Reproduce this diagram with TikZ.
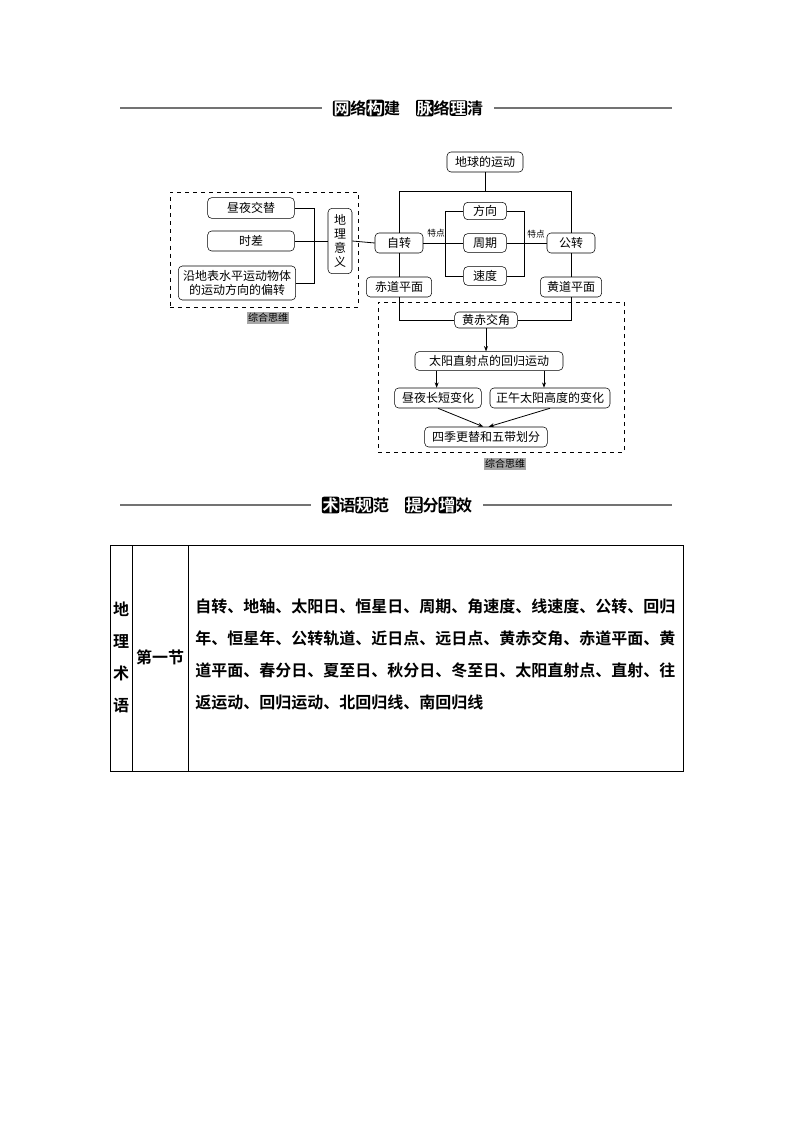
\documentclass[tikz,border=0pt]{standalone}
\usepackage{fontspec}
\setmainfont{Noto Sans CJK SC}
\newfontfamily\cjkb{Noto Sans CJK SC Bold}
\usetikzlibrary{arrows.meta}
\newcommand{\hb}[1]{\tikz[baseline=(h.base)]\node[fill=black,text=white,rounded corners=1.5pt,inner sep=0.6pt](h){#1};}
\tikzset{
 bx/.style={draw,rounded corners=3pt,font=\fontsize{9}{11}\selectfont,inner xsep=0pt,inner ysep=0pt,align=center},
 ln/.style={line width=0.6pt},
 ar/.style={ln,-{Stealth[length=4pt,width=3pt]}},
 dbox/.style={draw,dashed,line width=0.5pt},
 tag/.style={fill=black!35,font=\fontsize{7.5}{9}\selectfont,inner sep=1pt},
 small/.style={font=\fontsize{6.5}{8}\selectfont,inner sep=0pt},
 hd/.style={font=\cjkb\fontsize{12}{14}\selectfont,inner sep=0pt},
 rule/.style={line width=0.8pt,black!55}
}
\begin{document}
\begin{tikzpicture}[x=0.75pt,y=-0.75pt]
\useasboundingbox (0,0) rectangle (794,1123);
% header 1
\node[hd] (h1) at (408,108) {\hb{网}络\hb{构}建\quad\hb{脉}络\hb{理}清};
\coordinate (h1l) at (120,108); \coordinate (h1r) at (672,108);
\draw[rule] (h1l) -- ([xshift=-8pt]h1.west);
\draw[rule] ([xshift=8pt]h1.east) -- (h1r);
% top diagram
\node[bx,minimum width=57pt,minimum height=15pt] (earth) at (485,162) {地球的运动};
\node[bx,minimum width=36pt,minimum height=15pt] (zz) at (399,243) {自转};
\node[bx,minimum width=36pt,minimum height=15pt] (gz) at (571,243) {公转};
\node[bx,minimum width=32pt,minimum height=13pt] (fx) at (485,211) {方向};
\node[bx,minimum width=32pt,minimum height=14pt] (zq) at (485,243) {周期};
\node[bx,minimum width=32pt,minimum height=14pt] (sd) at (485,276) {速度};
\node[bx,minimum width=49pt,minimum height=15pt] (cd) at (399,287) {赤道平面};
\node[bx,minimum width=46pt,minimum height=15pt] (hd) at (571,287) {黄道平面};
\node[bx,minimum width=47pt,minimum height=12pt] (hc) at (486,320) {黄赤交角};
\node[bx,minimum width=111pt,minimum height=14pt] (ty) at (489,361) {太阳直射点的回归运动};
\node[bx,minimum width=65pt,minimum height=15pt] (zy) at (438,398) {昼夜长短变化};
\node[bx,minimum width=90pt,minimum height=15pt] (zw) at (550,398) {正午太阳高度的变化};
\node[bx,minimum width=92pt,minimum height=15pt] (sj) at (486,437) {四季更替和五带划分};
\node[small] (td1) at (436,233) {特点};
\node[small] (td2) at (536,234) {特点};
\coordinate (tl) at (399,191); \coordinate (tr) at (571,191);
\draw[ln] (earth.south) -- (earth.south|-tl);
\draw[ln] (zz.north) -- (tl) -- (tr) -- (gz.north);
\draw[ln] (zz.south) -- (cd.north);
\draw[ln] (gz.south) -- (hd.north);
\draw[ln] (zz.east) -- (zq.west);
\draw[ln] (gz.west) -- (zq.east);
\draw[ln] (fx.west) -- ++(-13.5pt,0) |- (sd.west);
\draw[ln] (fx.east) -- ++(13pt,0) |- (sd.east);
\draw[ln] (cd.south) |- (hc.west);
\draw[ln] (hd.south) |- (hc.east);
\draw[ar] (hc.south) -- (hc.south|-ty.north);
\draw[ar] (ty.south-|zy) ++(-1pt,0) coordinate (a1) -- (a1|-zy.north);
\draw[ar] (ty.south-|zw) ++(-4.5pt,0) coordinate (a2) -- (a2|-zw.north);
\draw[ar] (zy.south) -- ([xshift=-2pt]sj.north);
\draw[ar] (zw.south) -- ([xshift=2pt]sj.north);
\node[dbox,minimum width=184.5pt,minimum height=112.5pt] (dr) at (501,377) {};
\node[tag] (t2) at (505,464) {综合思维};
% left
\node[bx,minimum width=65pt,minimum height=15.5pt] (zj) at (251,208) {昼夜交替};
\node[bx,minimum width=65pt,minimum height=15pt] (sc) at (251,241) {时差};
\node[bx,minimum width=88pt,minimum height=25.5pt,font=\fontsize{9}{10.5}\selectfont] (yd) at (237,283) {沿地表水平运动物体\\的运动方向的偏转};
\node[bx,minimum width=18pt,minimum height=49pt,font=\fontsize{9}{10.5}\selectfont] (dl) at (340,241) {地\\理\\意\\义};
\coordinate (bk) at (314,241);
\draw[ln] (zj.east) -| (bk);
\draw[ln] (yd.east) -| (bk);
\draw[ln] (sc.east) -- (dl.west);
\draw[ln] (dl.east) -- (zz.west);
\node[dbox,minimum width=141pt,minimum height=86pt] (dl2) at (264,249.5) {};
\node[tag] (t1) at (268,318) {综合思维};
% header 2
\node[hd] (h2) at (397,505) {\hb{术}语\hb{规}范\quad\hb{提}分\hb{增}效};
\coordinate (h2l) at (120,505); \coordinate (h2r) at (672,505);
\draw[rule] (h2l) -- ([xshift=-8pt]h2.west);
\draw[rule] ([xshift=8pt]h2.east) -- (h2r);
% table
\coordinate (ta) at (110,545); \coordinate (tb) at (683,771);
\draw[line width=0.6pt] (ta) rectangle (tb);
\coordinate (c1) at (132,545); \coordinate (c2) at (188,545);
\draw[line width=0.6pt] (c1) -- (c1|-tb);
\draw[line width=0.6pt] (c2) -- (c2|-tb);
\node[font=\cjkb\fontsize{12}{24}\selectfont,align=center,inner sep=0pt] (k1) at (121,657) {地\\理\\术\\语};
\node[font=\cjkb\fontsize{12}{14}\selectfont,inner sep=0pt] (k2) at (160,657) {第一节};
\node[font=\cjkb\fontsize{12}{24}\selectfont,align=left,inner sep=0pt,anchor=north west] (k3) at (195,599) {自转、地轴、太阳日、恒星日、周期、角速度、线速度、公转、回归\\年、恒星年、公转轨道、近日点、远日点、黄赤交角、赤道平面、黄\\道平面、春分日、夏至日、秋分日、冬至日、太阳直射点、直射、往\\返运动、回归运动、北回归线、南回归线};
\end{tikzpicture}
\end{document}
